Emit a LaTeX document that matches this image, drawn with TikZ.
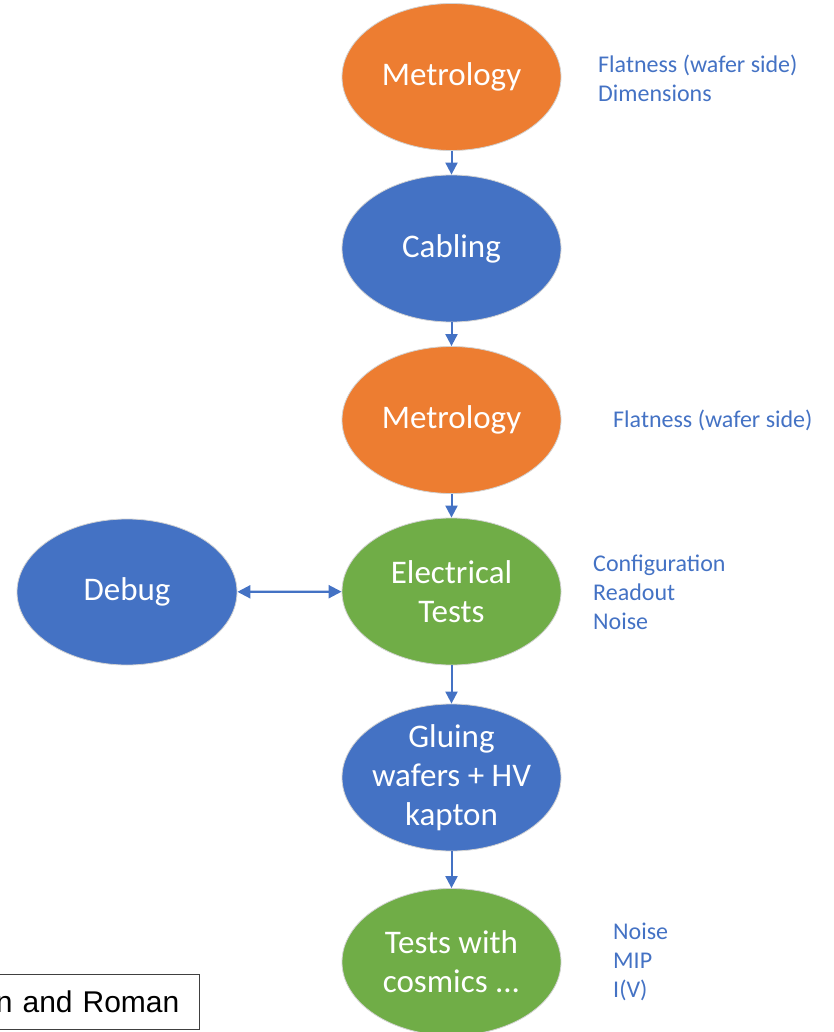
\documentclass[tikz,border=0pt]{standalone}
\usepackage{fontspec}
\setmainfont{Carlito}
\newfontfamily\arialfont{Liberation Sans}
\usetikzlibrary{shapes.geometric,arrows.meta}
\definecolor{orng}{HTML}{ED7D31}
\definecolor{blu}{HTML}{4472C4}
\definecolor{grn}{HTML}{70AD47}
\tikzset{
  stage/.style={ellipse, minimum width=219pt, minimum height=147pt, inner sep=-12pt,
    draw=gray!35, line width=0.8pt, text=white, align=center,
    font=\fontsize{33}{39}\selectfont},
  orangestage/.style={stage, fill=orng},
  bluestage/.style={stage, fill=blu},
  greenstage/.style={stage, fill=grn},
  note/.style={anchor=west, inner sep=0pt, align=left, text=blu,
    font=\fontsize{24}{29}\selectfont},
  flow/.style={draw=blu, line width=2pt, -{Triangle[length=12pt,width=12pt]}},
  bothflow/.style={draw=blu, line width=2.2pt, {Triangle[length=13pt,width=13pt]}-{Triangle[length=13pt,width=13pt]}}
}
\begin{document}
\begin{tikzpicture}[x=1pt,y=-1pt]
\useasboundingbox (0,0) rectangle (833,1032);
\node[orangestage] (met1) at (451.5,77) {Metrology};
\node[bluestage] (cab) at (451.5,248.5) {Cabling};
\node[orangestage] (met2) at (451.5,420) {Metrology};
\node[greenstage] (elec) at (451.5,591.5) {Electrical\\Tests};
\node[bluestage] (glue) at (451.5,777.5) {Gluing\\wafers + HV\\kapton};
\node[greenstage] (cos) at (451.5,962) {Tests with\\cosmics ...};
\node[bluestage, minimum width=220pt, minimum height=146pt] (debug) at (127,592) {Debug};

\draw[flow] (met1) -- (cab);
\draw[flow] (cab) -- (met2);
\draw[flow] (met2) -- (elec);
\draw[flow] (elec) -- (glue);
\draw[flow] (glue) -- (cos);
\draw[bothflow] (debug) -- (elec);

\node[note] (n1) at (598,78) {Flatness (wafer side)\\Dimensions};
\node[note] (n2) at (613,420) {Flatness (wafer side)};
\node[note] (n3) at (593,592) {Configuration\\Readout\\Noise};
\node[note] (n4) at (613,962) {Noise\\MIP\\I(V)};

\node[draw=black!75, line width=1.2pt, anchor=east, minimum height=55pt,
  text width=240pt, inner xsep=20pt, inner ysep=0pt, align=right,
  font=\arialfont\fontsize{30}{34}\selectfont] (box) at (200,1002) {n and Roman};
\end{tikzpicture}
\end{document}
